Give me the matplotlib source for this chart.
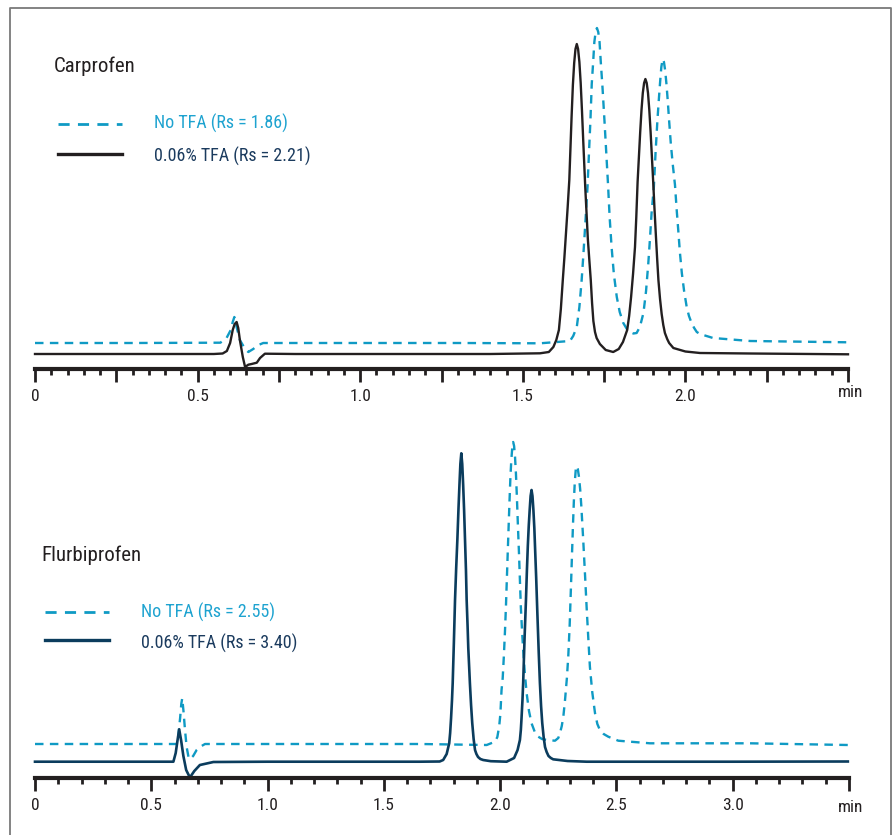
###
# Chromatograms: Carprofen and Flurbiprofen, with and without TFA.
###

# pip install matplotlib numpy
import matplotlib
matplotlib.use('Agg')
import matplotlib.pyplot as plt
from matplotlib.lines import Line2D
import numpy as np


# ================== Data (time in min, signal in a.u.). ==================.
carp_time_notfa = [0.00, 0.30, 0.570, 0.589, 0.602, 0.608, 0.613, 0.617, 0.620, 0.630, 0.646, 0.656,
                   0.671, 0.687, 0.702, 1.00, 1.30, 1.553, 1.645, 1.655, 1.666, 1.674, 1.681, 1.686,
                   1.691, 1.699, 1.704, 1.708, 1.712, 1.716, 1.720, 1.724, 1.728, 1.732, 1.736, 1.740,
                   1.745, 1.751, 1.756, 1.762, 1.767, 1.773, 1.780, 1.789, 1.798, 1.809, 1.820, 1.830,
                   1.840, 1.850, 1.860, 1.871, 1.879, 1.886, 1.891, 1.896, 1.903, 1.908, 1.914, 1.918,
                   1.922, 1.926, 1.930, 1.934, 1.938, 1.942, 1.946, 1.950, 1.955, 1.961, 1.968, 1.973,
                   1.978, 1.983, 1.989, 1.996, 2.004, 2.011, 2.019, 2.027, 2.035, 2.045, 2.085, 2.199,
                   2.500]
carp_sig_notfa  = [26, 26, 26.3, 31, 39, 47, 52, 48, 42, 29, 20, 17,
                   20, 24, 26, 26, 26, 25.7, 28, 33, 42, 62, 89, 113,
                   139, 182, 220, 249, 285, 305, 327, 337, 341, 337, 327, 306,
                   282, 249, 220, 185, 152, 122, 95, 72, 57, 46, 40, 37,
                   35.5, 36, 42, 56, 78, 106, 130, 156, 182, 215, 249, 268,
                   286, 302, 310, 307, 298, 284, 267, 248, 226, 205, 184, 160,
                   139, 117, 96, 78, 62, 53, 46, 41, 37, 35, 31, 28,
                   26.7]

carp_time_tfa = [0.00, 0.30, 0.55, 0.577, 0.590, 0.600, 0.608, 0.614, 0.620, 0.625, 0.630, 0.639,
                 0.646, 0.656, 0.666, 0.682, 0.692, 0.707, 0.80, 1.00, 1.20, 1.40, 1.553, 1.580,
                 1.594, 1.603, 1.611, 1.617, 1.623, 1.628, 1.633, 1.638, 1.643, 1.650, 1.654, 1.658,
                 1.662, 1.666, 1.670, 1.674, 1.678, 1.682, 1.686, 1.692, 1.700, 1.705, 1.709, 1.713,
                 1.717, 1.722, 1.727, 1.737, 1.755, 1.778, 1.795, 1.808, 1.821, 1.827, 1.833, 1.839,
                 1.845, 1.849, 1.853, 1.857, 1.861, 1.865, 1.869, 1.873, 1.877, 1.881, 1.885, 1.889,
                 1.893, 1.897, 1.901, 1.905, 1.909, 1.913, 1.917, 1.922, 1.927, 1.932, 1.937, 1.944,
                 1.950, 1.963, 2.000, 2.045, 2.200, 2.500]
carp_sig_tfa  = [15, 15, 15, 15.5, 18, 26, 39, 45, 47, 41, 29, 12,
                 2, 4.3, 5, 6.3, 11, 15.3, 15, 15, 15, 15, 15.7, 17,
                 22, 29, 39, 60, 89, 112, 137, 162, 189, 252, 284, 306,
                 320, 325, 320, 307, 286, 258, 227, 182, 130, 107, 89, 66,
                 48, 37, 31, 25, 19, 17, 20, 27, 39, 53, 72, 95,
                 122, 152, 187, 212, 237, 259, 276, 286, 290, 286, 276, 259,
                 237, 212, 187, 160, 135, 111, 89, 70, 55, 44, 36, 30,
                 26, 21, 17.5, 16, 15.5, 14.7]

flurb_time_notfa = [0.00, 0.30, 0.609, 0.615, 0.624, 0.629, 0.633, 0.638, 0.645, 0.652, 0.660, 0.666,
                    0.680, 0.695, 0.709, 0.731, 1.00, 1.30, 1.655, 1.942, 1.978, 1.988, 1.996, 2.001,
                    2.006, 2.011, 2.016, 2.021, 2.025, 2.029, 2.033, 2.037, 2.040, 2.044, 2.048, 2.052,
                    2.056, 2.060, 2.064, 2.068, 2.072, 2.076, 2.081, 2.085, 2.089, 2.094, 2.099, 2.106,
                    2.114, 2.124, 2.135, 2.149, 2.164, 2.180, 2.200, 2.236, 2.250, 2.257, 2.265, 2.272,
                    2.279, 2.287, 2.293, 2.299, 2.305, 2.309, 2.313, 2.317, 2.321, 2.325, 2.329, 2.334,
                    2.339, 2.344, 2.349, 2.357, 2.365, 2.372, 2.379, 2.386, 2.396, 2.408, 2.418, 2.429,
                    2.445, 2.465, 2.508, 2.644, 3.074, 3.495]
flurb_sig_notfa  = [34, 34, 34, 40, 60, 74, 79.7, 68, 48, 31, 21, 18.7,
                    22, 28, 31, 34, 34, 34, 34, 33, 36.3, 41, 52, 64,
                    88, 100, 122, 148, 172, 200, 228, 255, 275, 300, 318, 330,
                    336, 332, 321, 304, 281, 255, 225, 198, 171, 148, 128, 105,
                    84.7, 67, 54.7, 46, 41.3, 39, 38, 37.3, 40, 44.7, 52, 62,
                    78, 100, 122, 153, 195, 224, 252, 277, 296, 308, 312, 309,
                    301, 289, 272, 239, 203, 170, 140, 111, 86, 64.7, 54, 48,
                    44, 41.3, 37.3, 34.7, 34.7, 33]

flurb_time_tfa = [0.00, 0.30, 0.595, 0.605, 0.613, 0.620, 0.628, 0.638, 0.650, 0.666, 0.685, 0.709,
                  0.767, 1.00, 1.30, 1.655, 1.740, 1.755, 1.770, 1.781, 1.785, 1.789, 1.793, 1.796,
                  1.801, 1.806, 1.811, 1.816, 1.821, 1.825, 1.829, 1.833, 1.837, 1.841, 1.845, 1.849,
                  1.853, 1.856, 1.860, 1.863, 1.867, 1.870, 1.875, 1.880, 1.886, 1.892, 1.898, 1.905,
                  1.915, 1.927, 1.960, 2.028, 2.060, 2.075, 2.085, 2.089, 2.092, 2.096, 2.099, 2.105,
                  2.111, 2.115, 2.119, 2.123, 2.127, 2.131, 2.135, 2.139, 2.143, 2.147, 2.151, 2.155,
                  2.160, 2.166, 2.171, 2.176, 2.181, 2.187, 2.193, 2.200, 2.208, 2.218, 2.228, 2.290,
                  2.372, 3.000, 3.495]
flurb_sig_tfa  = [16.3, 16.3, 16.3, 25, 38, 48.7, 38, 22, 8, 0.5, 7, 13,
                  16, 16.3, 16.3, 16.3, 16.5, 18, 24, 34.7, 45, 60, 78, 95,
                  135, 178, 210, 238, 270, 293, 314, 324.7, 314, 293, 268, 238,
                  208, 178, 152, 130, 110, 94.7, 73, 55, 39, 28, 24, 21,
                  19, 18, 16.8, 16.3, 20, 28, 38, 48, 60, 78, 95, 140,
                  178, 207, 232, 252, 268, 282, 288, 282, 268, 250, 225, 200,
                  165, 125, 95, 72, 55, 41, 31, 26, 22, 20, 18.7, 17,
                  16.3, 16.3, 16.5]

carp_labels  = ['No TFA (Rs = 1.86)', '0.06% TFA (Rs = 2.21)']
flurb_labels = ['No TFA (Rs = 2.55)', '0.06% TFA (Rs = 3.40)']

carp_tick_labels  = ['0', '', '0.5', '', '1.0', '', '1.5', '', '2.0', '', '']
flurb_tick_labels = ['0', '0.5', '1.0', '1.5', '2.0', '2.5', '3.0', '']

# ================== Styles. ==================.
FONT       = ['Liberation Sans Narrow', 'Roboto Condensed', 'Roboto', 'DejaVu Sans']
STRETCH    = 'condensed'
CYAN       = '#0f9ac4'
CYAN_TEXT  = '#1ea3d0'
NAVY       = '#0b3c5d'
NAVY_TEXT  = '#1b3b5e'
INK        = '#231f20'
DASH       = (0, (3.6, 2.7))
W, H       = 896, 835


def fx(x):
    return x / W


def fy(y):
    return 1 - y / H


def style_axis(ax, xmax, major, minor, labels):
# {
    ax.set_xlim(0, xmax)
    for side in ['left', 'right', 'top']:
        ax.spines[side].set_visible(False)
    ax.spines['bottom'].set_linewidth(3.0)
    ax.spines['bottom'].set_color(INK)
    ax.set_yticks([])
    ax.set_xticks(np.arange(0, xmax + 1e-9, major))
    ax.set_xticklabels(labels)
    ax.set_xticks(np.arange(0, xmax + 1e-9, minor), minor=True)
    ax.tick_params(axis='x', which='major', direction='out', length=9, width=2.0,
                   color=INK, pad=5.5, labelsize=12.5, labelcolor=INK)
    ax.tick_params(axis='x', which='minor', direction='out', length=4.3, width=2.0, color=INK)
    for lbl in ax.get_xticklabels():
        lbl.set_family(FONT)
        lbl.set_stretch(STRETCH)
    ax.patch.set_alpha(0)
# }


def legend_block(fig, x0, x1, y_dash, y_solid, solid_color, labels, tx, ty_dash, ty_solid):
# {
    fig.add_artist(Line2D([fx(x0), fx(x1)], [fy(y_dash), fy(y_dash)], transform=fig.transFigure,
                          color=CYAN, lw=2.0, linestyle=(0, (4.0, 3.0))))
    fig.add_artist(Line2D([fx(x0), fx(x1)], [fy(y_solid), fy(y_solid)], transform=fig.transFigure,
                          color=solid_color, lw=2.4))
    fig.text(fx(tx), fy(ty_dash), labels[0], color=CYAN_TEXT, fontsize=13, family=FONT,
             fontstretch=STRETCH, va='baseline')
    fig.text(fx(tx), fy(ty_solid), labels[1], color=NAVY_TEXT, fontsize=13, family=FONT,
             fontstretch=STRETCH, va='baseline')
# }


# Main function.
def main() -> int:
# {
    fig = plt.figure(figsize=(W / 100, H / 100), dpi=100)

    # frame round the figure (left, top, right).
    fig.add_artist(Line2D([fx(10), fx(10), fx(891), fx(891)], [fy(835), fy(7.5), fy(7.5), fy(835)],
                          transform=fig.transFigure, color='#7a7a7a', lw=1.3))

    # ================== top panel: Carprofen. ==================.
    ax1 = fig.add_axes([fx(35), fy(369), (848 - 35) / W, (369 - 20) / H])
    ax1.set_ylim(0, 349)
    ax1.plot(carp_time_notfa, carp_sig_notfa, color=CYAN, lw=1.7, linestyle=DASH, clip_on=False)
    ax1.plot(carp_time_tfa, carp_sig_tfa, color=INK, lw=1.7, clip_on=False)
    style_axis(ax1, 2.5, 0.25, 0.05, carp_tick_labels)

    fig.text(fx(54), fy(72), 'Carprofen', color=INK, fontsize=15, family=FONT,
             fontstretch=STRETCH, va='baseline')
    legend_block(fig, 58, 122, 123.5, 154.3, INK, carp_labels, 154, 128.5, 161.5)
    fig.text(fx(851), fy(397), 'min', color=INK, fontsize=12.5, family=FONT,
             fontstretch=STRETCH, ha='center', va='baseline')

    # ================== bottom panel: Flurbiprofen. ==================.
    ax2 = fig.add_axes([fx(35), fy(778), (849 - 35) / W, (778 - 430) / H])
    ax2.set_ylim(0, 348)
    ax2.plot(flurb_time_notfa, flurb_sig_notfa, color=CYAN, lw=1.7, linestyle=DASH, clip_on=False)
    ax2.plot(flurb_time_tfa, flurb_sig_tfa, color=NAVY, lw=1.9, clip_on=False)
    style_axis(ax2, 3.5, 0.5, 0.1, flurb_tick_labels)

    fig.text(fx(41), fy(561), 'Flurbiprofen', color=INK, fontsize=15, family=FONT,
             fontstretch=STRETCH, va='baseline')
    legend_block(fig, 45, 109, 612, 640, NAVY, flurb_labels, 141, 618, 649)
    fig.text(fx(851), fy(812), 'min', color=INK, fontsize=12.5, family=FONT,
             fontstretch=STRETCH, ha='center', va='baseline')

    fig.savefig('out.png', dpi=100)

    return 0
# }


# Program entry.
if '__main__' == __name__:
# {
    main()
# }
